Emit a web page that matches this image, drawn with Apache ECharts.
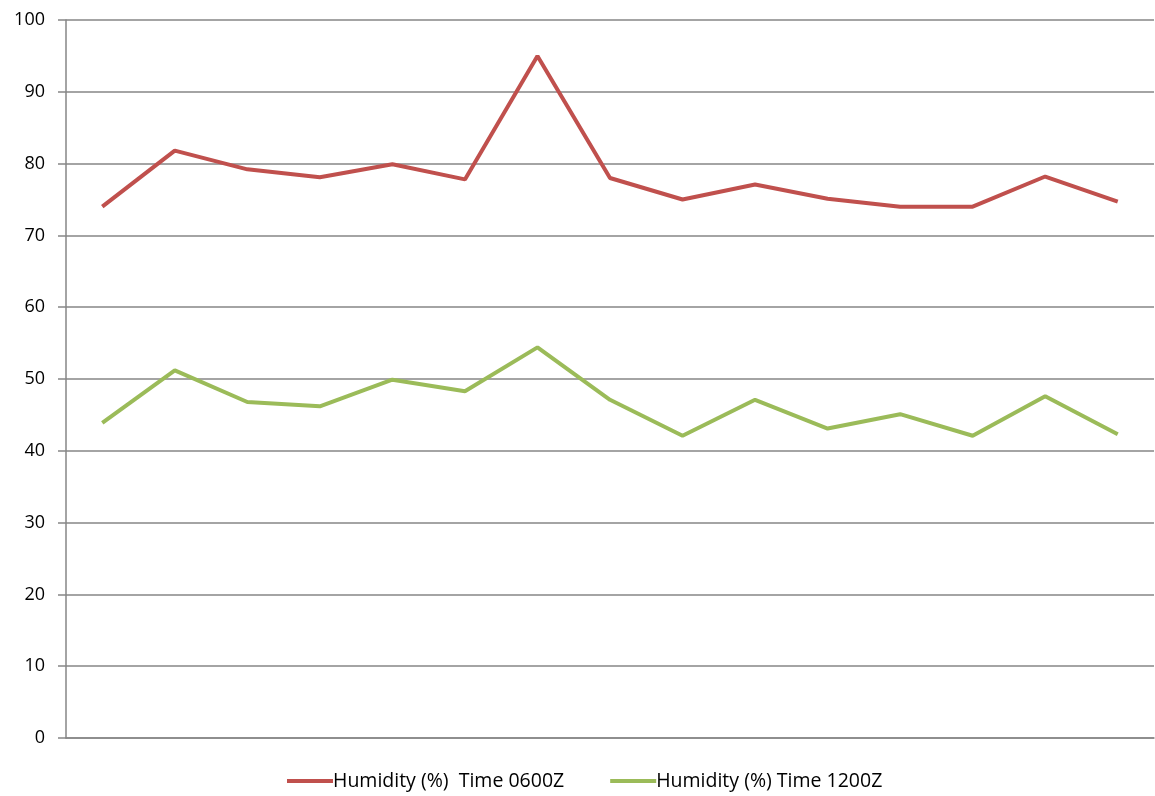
<!DOCTYPE html>
<html>
<head>
<meta charset="utf-8">
<title>Humidity</title>
<script src="https://cdn.jsdelivr.net/npm/echarts@6/dist/echarts.min.js"></script>
<style>
  html, body { margin: 0; padding: 0; background: #ffffff; }
  #chart { width: 1155px; height: 796px; }
</style>
</head>
<body>
<div id="chart"></div>
<script>
// Observation days (unlabelled on the category axis)
const categories = ['1', '2', '3', '4', '5', '6', '7', '8', '9', '10', '11', '12', '13', '14', '15'];

// Relative humidity readings, percent
const humidity0600 = [74.0, 81.8, 79.2, 78.1, 79.9, 77.8, 95.0, 78.0, 75.0, 77.1, 75.1, 74.0, 74.0, 78.2, 74.7];
const humidity1200 = [43.9, 51.2, 46.8, 46.2, 49.9, 48.3, 54.4, 47.1, 42.1, 47.1, 43.1, 45.1, 42.1, 47.6, 42.3];

const seriesNames = ['Humidity (%)  Time 0600Z', 'Humidity (%) Time 1200Z'];

const axisGray = '#868686';
const fontFamily = "'Open Sans', 'Liberation Sans', sans-serif";

const chart = echarts.init(document.getElementById('chart'), null, { renderer: 'canvas' });

chart.setOption({
  animation: false,
  backgroundColor: '#ffffff',
  color: ['#C0504D', '#9BBB59'],
  grid: { left: 66, right: 1, top: 20, bottom: 58, containLabel: false },
  legend: {
    bottom: 0,
    left: 282,
    itemWidth: 46,
    itemHeight: 4,
    itemGap: 46,
    icon: 'rect',
    textStyle: { fontFamily: fontFamily, fontSize: 19.5, color: '#000000', padding: [0, 0, 0, -5] },
    data: seriesNames
  },
  xAxis: {
    type: 'category',
    data: categories,
    boundaryGap: true,
    axisLine: { show: true, lineStyle: { color: axisGray, width: 1.5 } },
    axisTick: { show: false },
    axisLabel: { show: false },
    splitLine: { show: false }
  },
  yAxis: {
    type: 'value',
    min: 0,
    max: 100,
    interval: 10,
    axisLine: { show: true, lineStyle: { color: axisGray, width: 1.5 } },
    axisTick: { show: true, length: 8, lineStyle: { color: axisGray, width: 1.5 } },
    axisLabel: { margin: 21, fontFamily: fontFamily, fontSize: 18, color: '#000000' },
    splitLine: { show: true, lineStyle: { color: axisGray, width: 1.5 } }
  },
  series: [
    {
      name: seriesNames[0],
      type: 'line',
      data: humidity0600,
      symbol: 'none',
      lineStyle: { width: 4, color: '#C0504D' },
      itemStyle: { color: '#C0504D' }
    },
    {
      name: seriesNames[1],
      type: 'line',
      data: humidity1200,
      symbol: 'none',
      lineStyle: { width: 4, color: '#9BBB59' },
      itemStyle: { color: '#9BBB59' }
    }
  ]
});
</script>
</body>
</html>
